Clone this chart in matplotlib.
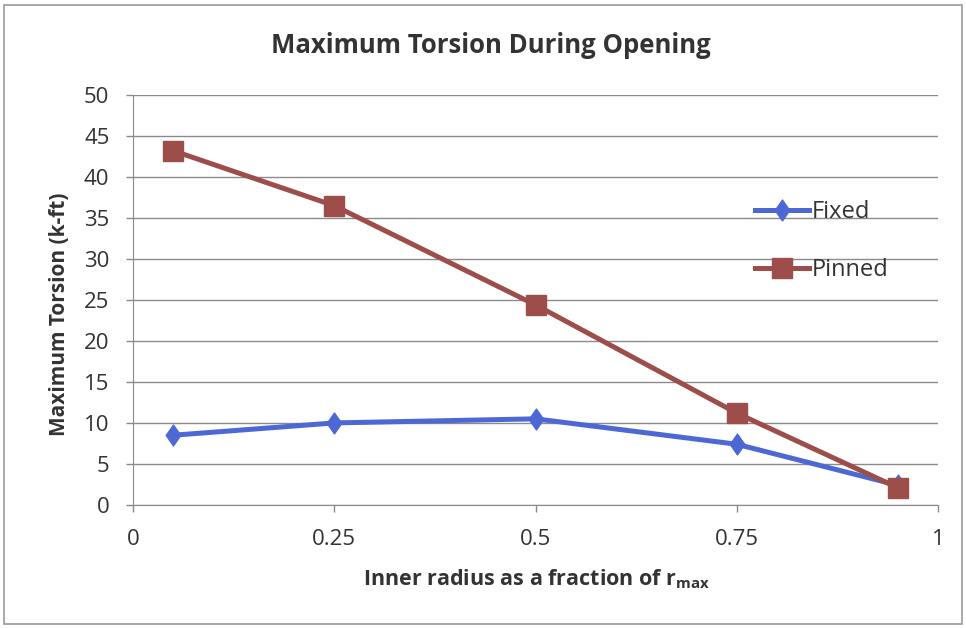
import matplotlib.pyplot as plt
from matplotlib.patches import Rectangle
from matplotlib.path import Path

plt.rcParams['font.family'] = ['Open Sans', 'DejaVu Sans']

radius = [0.05, 0.25, 0.5, 0.75, 0.95]
fixed = [8.5, 10.0, 10.5, 7.4, 2.4]
pinned = [43.2, 36.5, 24.4, 11.2, 2.1]

# taller-than-wide diamond, like the spreadsheet marker
diamond = Path([(0, 1), (0.7, 0), (0, -1), (-0.7, 0), (0, 1)],
               [Path.MOVETO, Path.LINETO, Path.LINETO, Path.LINETO, Path.CLOSEPOLY])

fig = plt.figure(figsize=(9.66, 6.28), dpi=100)
ax = fig.add_axes([0.1377, 0.196, 0.8333, 0.6527])

ax.plot(radius, fixed, color='#4D68D4', linewidth=3.6, marker=diamond,
        markersize=15, label='Fixed', zorder=3)
ax.plot(radius, pinned, color='#9E4E4A', linewidth=3.6, marker='s',
        markersize=14, label='Pinned', zorder=3)

ax.set_xlim(0, 1)
ax.set_ylim(0, 50)
ax.set_xticks([0, 0.25, 0.5, 0.75, 1])
ax.set_xticklabels(['0', '0.25', '0.5', '0.75', '1'])
ax.set_yticks(range(0, 51, 5))
ax.grid(axis='y', color='#8a8a8a', linewidth=1.0)
ax.set_axisbelow(True)
for side in ['top', 'right']:
    ax.spines[side].set_visible(False)
for side in ['left', 'bottom']:
    ax.spines[side].set_color('#8a8a8a')
ax.tick_params(axis='both', colors='#8a8a8a', labelcolor='#333333',
               labelsize=16, length=5, width=1)
ax.tick_params(axis='x', pad=12)
ax.tick_params(axis='y', pad=12)

fig.text(0.508, 0.928, 'Maximum Torsion During Opening', fontsize=18.5,
         fontweight='bold', color='#333333', ha='center', va='center')
fig.text(0.556, 0.077, r'Inner radius as a fraction of r$_{\mathregular{max}}$',
         fontsize=15.5, fontweight='bold', color='#333333', ha='center', va='center')
fig.text(0.062, 0.5, 'Maximum Torsion (k-ft)', fontsize=15, fontweight='bold',
         color='#333333', ha='center', va='center', rotation=90)

ax.legend(loc='upper left', bbox_to_anchor=(755 / 966, 1 - 200 / 628),
          bbox_transform=fig.transFigure, frameon=False, borderpad=0,
          borderaxespad=0, fontsize=17, labelspacing=1.45, handlelength=2.3,
          handletextpad=0.1, labelcolor='#333333')

# outer chart border
fig.patches.append(Rectangle((0.004, 0.006), 0.992, 0.986, transform=fig.transFigure,
                             fill=False, edgecolor='#9a9a9a', linewidth=1.2))

fig.savefig('out.png', dpi=100)
